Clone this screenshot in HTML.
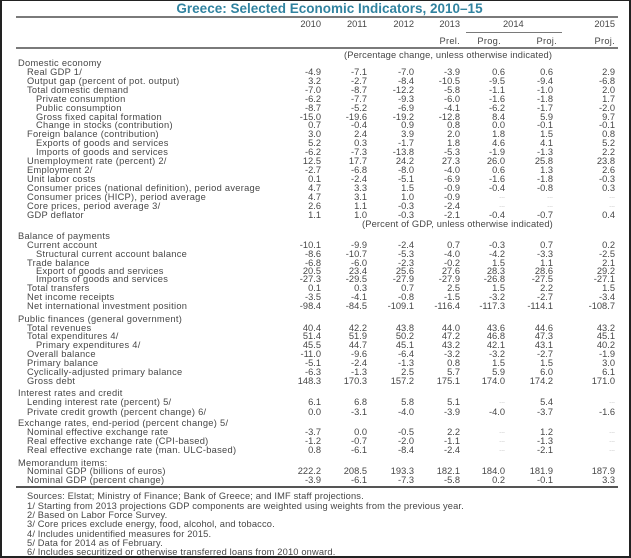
<!DOCTYPE html>
<html><head><meta charset="utf-8">
<style>
*{margin:0;padding:0;box-sizing:border-box}
html,body{width:631px;height:558px;background:#fff;overflow:hidden}
#w{position:relative;width:631px;height:558px;background:#fff;font-family:"Liberation Sans",Arial,sans-serif;color:#474747}
.bd{position:absolute;background:#222}
.rule{position:absolute;background:#7a7a7a}
.t{position:absolute;left:14px;width:631px;text-align:center;top:1px;font-size:13.5px;font-weight:bold;color:#3183a0;line-height:15px}
.r{position:absolute;left:0;width:631px;height:10px;line-height:10px;font-size:9.3px;letter-spacing:0.28px;white-space:nowrap}
.r span{position:absolute;top:0}
.n span{letter-spacing:0}
.n span.l0,.n span.l1,.n span.l2{letter-spacing:0.28px}
.l0{left:18px}.l1{left:27px}.l2{left:36px}
.r span.a{right:310px}.r span.b{right:264px}.r span.c{right:217px}.r span.d{right:171px}.r span.e{right:126px}.r span.f{right:78px}.r span.g{right:16px}
.r span.x{color:#b0b0b0;font-size:7px;letter-spacing:0}
.cn{position:absolute;white-space:nowrap;font-size:9.3px;line-height:10px;letter-spacing:0.15px}
.ft{letter-spacing:0.15px}
</style></head><body>
<div id="w">
<div class="bd" style="left:0;top:0;width:631px;height:1px"></div>
<div class="bd" style="left:0;top:0;width:2px;height:558px"></div>
<div class="bd" style="left:629px;top:0;width:2px;height:558px"></div>
<div class="bd" style="left:0;top:556px;width:631px;height:2px"></div>

<div class="t">Greece: Selected Economic Indicators, 2010–15</div>
<div class="rule" style="left:16px;top:16px;width:602px;height:2px"></div>
<div class="r n" style="top:19px"><span class="a">2010</span><span class="b">2011</span><span class="c">2012</span><span class="d">2013</span><span style="left:503px">2014</span><span class="g">2015</span></div>
<div class="rule" style="left:466px;top:32px;width:96px;height:1px"></div>
<div class="r" style="top:36px"><span class="d">Prel.</span><span style="right:130px">Prog.</span><span style="right:74px">Proj.</span><span class="g">Proj.</span></div>
<div class="rule" style="left:16px;top:47px;width:602px;height:2px"></div>
<div class="cn" style="left:344px;top:50px">(Percentage change, unless otherwise indicated)</div>

<div class="r" style="top:58px"><span class="l0">Domestic economy</span></div>
<div class="r n" style="top:67px"><span class="l1">Real GDP 1/</span><span class="a">-4.9</span><span class="b">-7.1</span><span class="c">-7.0</span><span class="d">-3.9</span><span class="e">0.6</span><span class="f">0.6</span><span class="g">2.9</span></div>
<div class="r n" style="top:76px"><span class="l1">Output gap (percent of pot. output)</span><span class="a">3.2</span><span class="b">-2.7</span><span class="c">-8.4</span><span class="d">-10.5</span><span class="e">-9.5</span><span class="f">-9.4</span><span class="g">-6.8</span></div>
<div class="r n" style="top:85px"><span class="l1">Total domestic demand</span><span class="a">-7.0</span><span class="b">-8.7</span><span class="c">-12.2</span><span class="d">-5.8</span><span class="e">-1.1</span><span class="f">-1.0</span><span class="g">2.0</span></div>
<div class="r n" style="top:94px"><span class="l2">Private consumption</span><span class="a">-6.2</span><span class="b">-7.7</span><span class="c">-9.3</span><span class="d">-6.0</span><span class="e">-1.6</span><span class="f">-1.8</span><span class="g">1.7</span></div>
<div class="r n" style="top:103px"><span class="l2">Public consumption</span><span class="a">-8.7</span><span class="b">-5.2</span><span class="c">-6.9</span><span class="d">-4.1</span><span class="e">-6.2</span><span class="f">-1.7</span><span class="g">-2.0</span></div>
<div class="r n" style="top:112px"><span class="l2">Gross fixed capital formation</span><span class="a">-15.0</span><span class="b">-19.6</span><span class="c">-19.2</span><span class="d">-12.8</span><span class="e">8.4</span><span class="f">5.9</span><span class="g">9.7</span></div>
<div class="r n" style="top:120px"><span class="l2">Change in stocks (contribution)</span><span class="a">0.7</span><span class="b">-0.4</span><span class="c">0.9</span><span class="d">0.8</span><span class="e">0.0</span><span class="f">-0.1</span><span class="g">-0.1</span></div>
<div class="r n" style="top:129px"><span class="l1">Foreign balance (contribution)</span><span class="a">3.0</span><span class="b">2.4</span><span class="c">3.9</span><span class="d">2.0</span><span class="e">1.8</span><span class="f">1.5</span><span class="g">0.8</span></div>
<div class="r n" style="top:138px"><span class="l2">Exports of goods and services</span><span class="a">5.2</span><span class="b">0.3</span><span class="c">-1.7</span><span class="d">1.8</span><span class="e">4.6</span><span class="f">4.1</span><span class="g">5.2</span></div>
<div class="r n" style="top:147px"><span class="l2">Imports of goods and services</span><span class="a">-6.2</span><span class="b">-7.3</span><span class="c">-13.8</span><span class="d">-5.3</span><span class="e">-1.9</span><span class="f">-1.3</span><span class="g">2.2</span></div>
<div class="r n" style="top:156px"><span class="l1">Unemployment rate (percent) 2/</span><span class="a">12.5</span><span class="b">17.7</span><span class="c">24.2</span><span class="d">27.3</span><span class="e">26.0</span><span class="f">25.8</span><span class="g">23.8</span></div>
<div class="r n" style="top:165px"><span class="l1">Employment 2/</span><span class="a">-2.7</span><span class="b">-6.8</span><span class="c">-8.0</span><span class="d">-4.0</span><span class="e">0.6</span><span class="f">1.3</span><span class="g">2.6</span></div>
<div class="r n" style="top:174px"><span class="l1">Unit labor costs</span><span class="a">0.1</span><span class="b">-2.4</span><span class="c">-5.1</span><span class="d">-6.9</span><span class="e">-1.6</span><span class="f">-1.8</span><span class="g">-0.3</span></div>
<div class="r n" style="top:183px"><span class="l1">Consumer prices (national definition), period average</span><span class="a">4.7</span><span class="b">3.3</span><span class="c">1.5</span><span class="d">-0.9</span><span class="e">-0.4</span><span class="f">-0.8</span><span class="g">0.3</span></div>
<div class="r n" style="top:192px"><span class="l1">Consumer prices (HICP), period average</span><span class="a">4.7</span><span class="b">3.1</span><span class="c">1.0</span><span class="d">-0.9</span><span class="e x">...</span><span class="f x">...</span><span class="g x">...</span></div>
<div class="r n" style="top:201px"><span class="l1">Core prices, period average 3/</span><span class="a">2.6</span><span class="b">1.1</span><span class="c">-0.3</span><span class="d">-2.4</span><span class="e x">...</span><span class="f x">...</span><span class="g x">...</span></div>
<div class="r n" style="top:210px"><span class="l1">GDP deflator</span><span class="a">1.1</span><span class="b">1.0</span><span class="c">-0.3</span><span class="d">-2.1</span><span class="e">-0.4</span><span class="f">-0.7</span><span class="g">0.4</span></div>
<div class="cn" style="left:362px;top:219px">(Percent of GDP, unless otherwise indicated)</div>

<div class="r" style="top:231px"><span class="l0">Balance of payments</span></div>
<div class="r n" style="top:240px"><span class="l1">Current account</span><span class="a">-10.1</span><span class="b">-9.9</span><span class="c">-2.4</span><span class="d">0.7</span><span class="e">-0.3</span><span class="f">0.7</span><span class="g">0.2</span></div>
<div class="r n" style="top:249px"><span class="l2">Structural current account balance</span><span class="a">-8.6</span><span class="b">-10.7</span><span class="c">-5.3</span><span class="d">-4.0</span><span class="e">-4.2</span><span class="f">-3.3</span><span class="g">-2.5</span></div>
<div class="r n" style="top:258px"><span class="l1">Trade balance</span><span class="a">-6.8</span><span class="b">-6.0</span><span class="c">-2.3</span><span class="d">-0.2</span><span class="e">1.5</span><span class="f">1.1</span><span class="g">2.1</span></div>
<div class="r n" style="top:266px"><span class="l2">Export of goods and services</span><span class="a">20.5</span><span class="b">23.4</span><span class="c">25.6</span><span class="d">27.6</span><span class="e">28.3</span><span class="f">28.6</span><span class="g">29.2</span></div>
<div class="r n" style="top:274px"><span class="l2">Imports of goods and services</span><span class="a">-27.3</span><span class="b">-29.5</span><span class="c">-27.9</span><span class="d">-27.9</span><span class="e">-26.8</span><span class="f">-27.5</span><span class="g">-27.1</span></div>
<div class="r n" style="top:283px"><span class="l1">Total transfers</span><span class="a">0.1</span><span class="b">0.3</span><span class="c">0.7</span><span class="d">2.5</span><span class="e">1.5</span><span class="f">2.2</span><span class="g">1.5</span></div>
<div class="r n" style="top:292px"><span class="l1">Net income receipts</span><span class="a">-3.5</span><span class="b">-4.1</span><span class="c">-0.8</span><span class="d">-1.5</span><span class="e">-3.2</span><span class="f">-2.7</span><span class="g">-3.4</span></div>
<div class="r n" style="top:301px"><span class="l1">Net international investment position</span><span class="a">-98.4</span><span class="b">-84.5</span><span class="c">-109.1</span><span class="d">-116.4</span><span class="e">-117.3</span><span class="f">-114.1</span><span class="g">-108.7</span></div>

<div class="r" style="top:314px"><span class="l0">Public finances (general government)</span></div>
<div class="r n" style="top:323px"><span class="l1">Total revenues</span><span class="a">40.4</span><span class="b">42.2</span><span class="c">43.8</span><span class="d">44.0</span><span class="e">43.6</span><span class="f">44.6</span><span class="g">43.2</span></div>
<div class="r n" style="top:331px"><span class="l1">Total expenditures 4/</span><span class="a">51.4</span><span class="b">51.9</span><span class="c">50.2</span><span class="d">47.2</span><span class="e">46.8</span><span class="f">47.3</span><span class="g">45.1</span></div>
<div class="r n" style="top:340px"><span class="l2">Primary expenditures 4/</span><span class="a">45.5</span><span class="b">44.7</span><span class="c">45.1</span><span class="d">43.2</span><span class="e">42.1</span><span class="f">43.1</span><span class="g">40.2</span></div>
<div class="r n" style="top:349px"><span class="l1">Overall balance</span><span class="a">-11.0</span><span class="b">-9.6</span><span class="c">-6.4</span><span class="d">-3.2</span><span class="e">-3.2</span><span class="f">-2.7</span><span class="g">-1.9</span></div>
<div class="r n" style="top:358px"><span class="l1">Primary balance</span><span class="a">-5.1</span><span class="b">-2.4</span><span class="c">-1.3</span><span class="d">0.8</span><span class="e">1.5</span><span class="f">1.5</span><span class="g">3.0</span></div>
<div class="r n" style="top:367px"><span class="l1">Cyclically-adjusted primary balance</span><span class="a">-6.3</span><span class="b">-1.3</span><span class="c">2.5</span><span class="d">5.7</span><span class="e">5.9</span><span class="f">6.0</span><span class="g">6.1</span></div>
<div class="r n" style="top:376px"><span class="l1">Gross debt</span><span class="a">148.3</span><span class="b">170.3</span><span class="c">157.2</span><span class="d">175.1</span><span class="e">174.0</span><span class="f">174.2</span><span class="g">171.0</span></div>

<div class="r" style="top:388px"><span class="l0">Interest rates and credit</span></div>
<div class="r n" style="top:397px"><span class="l1">Lending interest rate (percent) 5/</span><span class="a">6.1</span><span class="b">6.8</span><span class="c">5.8</span><span class="d">5.1</span><span class="e x">...</span><span class="f">5.4</span><span class="g x">...</span></div>
<div class="r n" style="top:407px"><span class="l1">Private credit growth (percent change) 6/</span><span class="a">0.0</span><span class="b">-3.1</span><span class="c">-4.0</span><span class="d">-3.9</span><span class="e">-4.0</span><span class="f">-3.7</span><span class="g">-1.6</span></div>

<div class="r" style="top:418px"><span class="l0">Exchange rates, end-period (percent change) 5/</span></div>
<div class="r n" style="top:427px"><span class="l1">Nominal effective exchange rate</span><span class="a">-3.7</span><span class="b">0.0</span><span class="c">-0.5</span><span class="d">2.2</span><span class="e x">...</span><span class="f">1.2</span><span class="g x">...</span></div>
<div class="r n" style="top:436px"><span class="l1">Real effective exchange rate (CPI-based)</span><span class="a">-1.2</span><span class="b">-0.7</span><span class="c">-2.0</span><span class="d">-1.1</span><span class="e x">...</span><span class="f">-1.3</span><span class="g x">...</span></div>
<div class="r n" style="top:445px"><span class="l1">Real effective exchange rate (man. ULC-based)</span><span class="a">0.8</span><span class="b">-6.1</span><span class="c">-8.4</span><span class="d">-2.4</span><span class="e x">...</span><span class="f">-2.1</span><span class="g x">...</span></div>

<div class="r" style="top:458px"><span class="l0">Memorandum items:</span></div>
<div class="r n" style="top:466px"><span class="l1">Nominal GDP (billions of euros)</span><span class="a">222.2</span><span class="b">208.5</span><span class="c">193.3</span><span class="d">182.1</span><span class="e">184.0</span><span class="f">181.9</span><span class="g">187.9</span></div>
<div class="r n" style="top:475px"><span class="l1">Nominal GDP (percent change)</span><span class="a">-3.9</span><span class="b">-6.1</span><span class="c">-7.3</span><span class="d">-5.8</span><span class="e">0.2</span><span class="f">-0.1</span><span class="g">3.3</span></div>
<div class="rule" style="left:16px;top:486px;width:602px;height:2px;background:#555"></div>

<div class="r ft" style="top:491px"><span class="l1">Sources: Elstat; Ministry of Finance; Bank of Greece; and IMF staff projections.</span></div>
<div class="r ft" style="top:501px"><span class="l1">1/ Starting from 2013 projections GDP components are weighted using weights from the previous year.</span></div>
<div class="r ft" style="top:510px"><span class="l1">2/ Based on Labor Force Survey.</span></div>
<div class="r ft" style="top:519px"><span class="l1">3/ Core prices exclude energy, food, alcohol, and tobacco.</span></div>
<div class="r ft" style="top:529px"><span class="l1">4/ Includes unidentified measures for 2015.</span></div>
<div class="r ft" style="top:538px"><span class="l1">5/ Data for 2014 as of February.</span></div>
<div class="r ft" style="top:547px"><span class="l1">6/ Includes securitized or otherwise transferred loans from 2010 onward.</span></div>
</div>
</body></html>
